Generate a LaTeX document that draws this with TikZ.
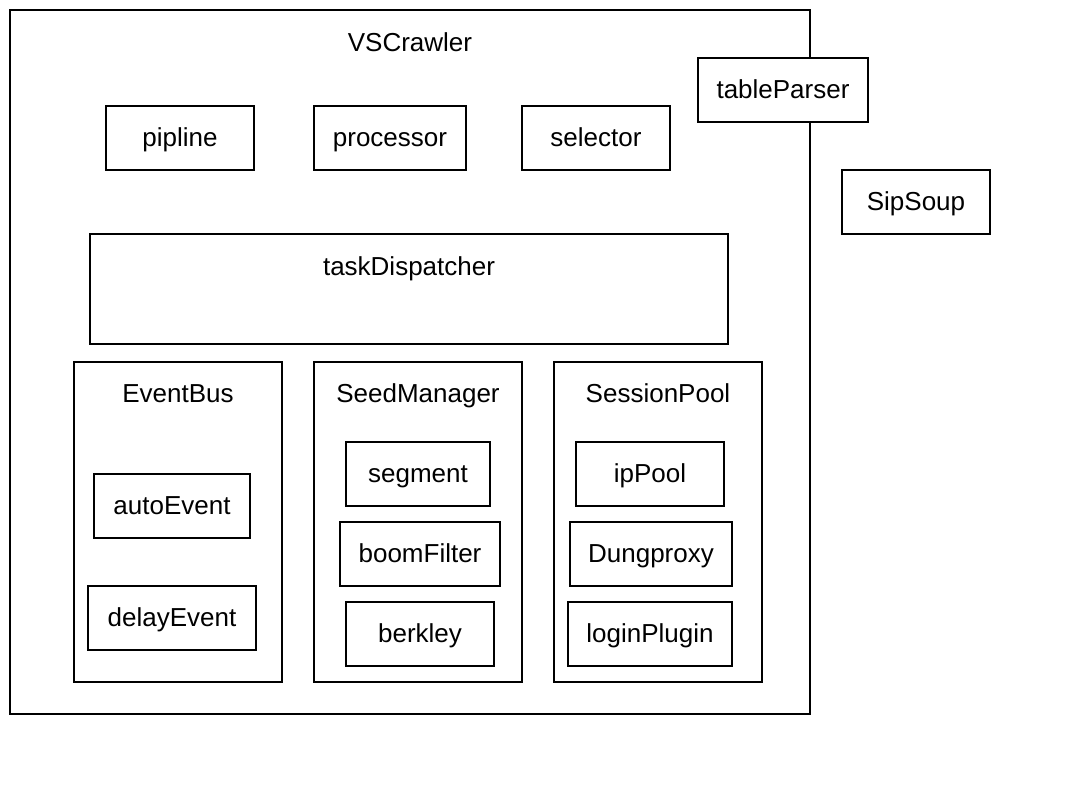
\documentclass[tikz,border=0pt]{standalone}
\usepackage{fontspec}
\setmainfont{Liberation Sans}
\begin{document}
\begin{tikzpicture}[x=1pt,y=-1pt,
  box/.style={draw=black,line width=1.6pt,fill=white,outer sep=0pt,inner sep=0pt},
  lbl/.style={font=\fontsize{26}{30}\selectfont,inner sep=0pt,outer sep=0pt,anchor=center,text height=19.5pt,text depth=0pt},
  item/.style={box,font=\fontsize{26}{30}\selectfont,anchor=north west,text height=17.5pt,text depth=0pt}]
\useasboundingbox[fill=white] (0,0) rectangle (1080,804);
% outer container
\node[box,minimum width=800pt,minimum height=704pt,anchor=north west] (vs) at (10,10) {};
\node[lbl] (vslbl) at (410,42) {VSCrawler};
% top row
\node[item,minimum width=148pt,minimum height=64pt] (pipline) at (106,106) {pipline};
\node[item,minimum width=152pt,minimum height=64pt] (processor) at (314,106) {processor};
\node[item,minimum width=148pt,minimum height=64pt] (selector) at (522,106) {selector};
\node[item,minimum width=170pt,minimum height=64pt] (tableParser) at (698,58) {tableParser};
\node[item,minimum width=148pt,minimum height=64pt] (SipSoup) at (842,170) {SipSoup};
% task dispatcher
\node[box,minimum width=638pt,minimum height=110pt,anchor=north west] (td) at (90,234) {};
\node[lbl] (tdlbl) at (409,266) {taskDispatcher};
% EventBus
\node[box,minimum width=208pt,minimum height=320pt,anchor=north west] (eb) at (74,362) {};
\node[lbl] (eblbl) at (178,393) {EventBus};
\node[item,minimum width=156pt,minimum height=64pt] (autoEvent) at (94,474) {autoEvent};
\node[item,minimum width=168pt,minimum height=64pt] (delayEvent) at (88,586) {delayEvent};
% SeedManager
\node[box,minimum width=208pt,minimum height=320pt,anchor=north west] (sm) at (314,362) {};
\node[lbl] (smlbl) at (418,393) {SeedManager};
\node[item,minimum width=144pt,minimum height=64pt] (segment) at (346,442) {segment};
\node[item,minimum width=160pt,minimum height=64pt] (boomFilter) at (340,522) {boomFilter};
\node[item,minimum width=148pt,minimum height=64pt] (berkley) at (346,602) {berkley};
% SessionPool
\node[box,minimum width=208pt,minimum height=320pt,anchor=north west] (sp) at (554,362) {};
\node[lbl] (splbl) at (658,393) {SessionPool};
\node[item,minimum width=148pt,minimum height=64pt] (ipPool) at (576,442) {ipPool};
\node[item,minimum width=162pt,minimum height=64pt] (Dungproxy) at (570,522) {Dungproxy};
\node[item,minimum width=164pt,minimum height=64pt] (loginPlugin) at (568,602) {loginPlugin};
\end{tikzpicture}
\end{document}
